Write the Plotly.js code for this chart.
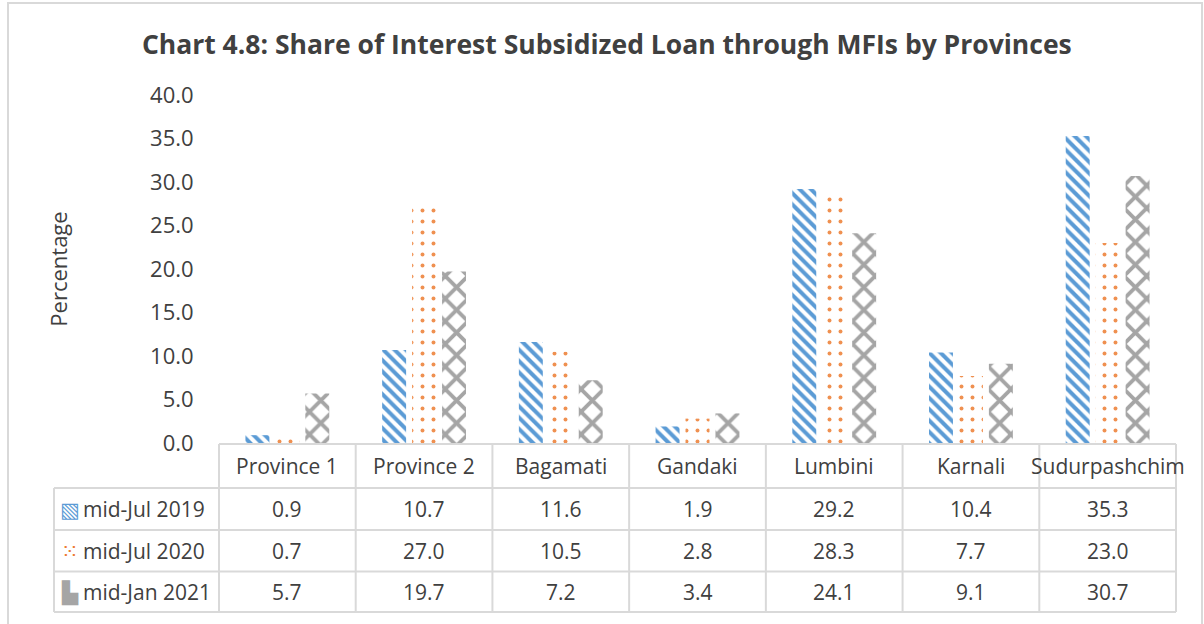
<!DOCTYPE html>
<html>
<head>
<meta charset="utf-8">
<script src="https://cdn.plot.ly/plotly-3.0.1.min.js"></script>
<style>html,body{margin:0;padding:0;background:#fff;}#chart{width:1204px;height:624px;}</style>
</head>
<body>
<div id="chart"></div>
<script>
const categories = ["Province 1", "Province 2", "Bagamati", "Gandaki", "Lumbini", "Karnali", "Sudurpashchim"];
const seriesNames = ["mid-Jul 2019", "mid-Jul 2020", "mid-Jan 2021"];
const julyNineteen = [0.9, 10.7, 11.6, 1.9, 29.2, 10.4, 35.3];
const julyTwenty = [0.7, 27.0, 10.5, 2.8, 28.3, 7.7, 23.0];
const janTwentyOne = [5.7, 19.7, 7.2, 3.4, 24.1, 9.1, 30.7];
const yTicks = [0, 5, 10, 15, 20, 25, 30, 35, 40];

const colors = ["#5B9BD5", "#ED7D31", "#A5A5A5"];
const patterns = [
  {shape: "\\", size: 8, solidity: 0.5},
  {shape: ".", size: 11, solidity: 0.1, fgopacity: 0.85},
  {shape: "x", size: 16, solidity: 0.42}
];
const seriesValues = [julyNineteen, julyTwenty, janTwentyOne];
const swatches = ["▧", "⁙", "▙"];

const FONT = "Open Sans, Lato, sans-serif";
const TXT = "#404040";
const GRID = "#D9D9D9";

// page geometry (pixels) -> paper coordinates
const W = 1204, H = 624;
const M = {l: 54, r: 28, t: 90, b: 12};
const PW = W - M.l - M.r, PH = H - M.t - M.b;
const px = x => (x - M.l) / PW;
const py = y => (H - M.b - y) / PH;

// table layout
const legendLeft = 54, dataLeft = 219, dataRight = 1176;
const colW = (dataRight - dataLeft) / categories.length;
const rowLines = [444, 488, 530, 571.5, 612];

const traces = seriesValues.map((vals, i) => ({
  type: "bar",
  name: seriesNames[i],
  x: categories,
  y: vals,
  marker: {
    color: "#ffffff",
    line: {width: 0},
    pattern: Object.assign({fgcolor: colors[i], bgcolor: "#ffffff", fillmode: "replace"}, patterns[i])
  },
  hoverinfo: "x+y+name"
}));

const shapes = [];
const lineShape = (x0, y0, x1, y1) => ({
  type: "line", xref: "paper", yref: "paper",
  x0: px(x0), x1: px(x1), y0: py(y0), y1: py(y1),
  line: {color: GRID, width: 2}
});
// horizontal rules
rowLines.forEach((y, i) => shapes.push(lineShape(i === 0 ? dataLeft : legendLeft, y, dataRight, y)));
// vertical rules
shapes.push(lineShape(legendLeft, rowLines[1], legendLeft, rowLines[4]));
for (let k = 0; k <= categories.length; k++) {
  const x = dataLeft + k * colW;
  shapes.push(lineShape(x, rowLines[0], x, rowLines[4]));
}
// outer chart frame
shapes.push({
  type: "rect", xref: "paper", yref: "paper",
  x0: px(8), x1: px(1202), y0: py(640), y1: py(3),
  line: {color: GRID, width: 2}, fillcolor: "rgba(0,0,0,0)", layer: "below"
});

const annotations = [];
const cellText = (x, y, text, anchor) => ({
  xref: "paper", yref: "paper", x: px(x), y: py(y),
  xanchor: anchor || "center", yanchor: "middle",
  text: text, showarrow: false,
  font: {family: FONT, size: 21, color: TXT}
});
categories.forEach((c, k) => {
  const cx = dataLeft + (k + 0.5) * colW;
  annotations.push(cellText(cx, (rowLines[0] + rowLines[1]) / 2, c));
  seriesValues.forEach((s, i) => {
    annotations.push(cellText(cx, (rowLines[i + 1] + rowLines[i + 2]) / 2, s[k].toFixed(1)));
  });
});
seriesNames.forEach((n, i) => {
  const cy = (rowLines[i + 1] + rowLines[i + 2]) / 2;
  annotations.push(cellText(81, cy, n, "left"));
  annotations.push({
    xref: "paper", yref: "paper", x: px(70), y: py(cy + 1),
    xanchor: "center", yanchor: "middle",
    text: swatches[i], showarrow: false,
    font: {family: "DejaVu Sans", size: 21, color: colors[i]}
  });
});

const layout = {
  width: W,
  height: H,
  margin: M,
  paper_bgcolor: "#ffffff",
  plot_bgcolor: "#ffffff",
  showlegend: false,
  barmode: "group",
  bargap: 0.343,
  bargroupgap: 0.2,
  title: {
    text: "<b>Chart 4.8: Share of Interest Subsidized Loan through MFIs by Provinces</b>",
    font: {family: FONT, size: 26.5, color: TXT},
    x: 0.504, xref: "container", xanchor: "center",
    y: 0.928, yref: "container", yanchor: "middle"
  },
  xaxis: {
    domain: [px(dataLeft), 1],
    showticklabels: false,
    showline: false,
    showgrid: false,
    zeroline: false,
    ticks: ""
  },
  yaxis: {
    domain: [py(443), py(95)],
    range: [0, 40],
    tickvals: yTicks,
    ticktext: yTicks.map(v => v.toFixed(1)),
    showgrid: false,
    zeroline: false,
    showline: false,
    ticks: "outside",
    ticklen: 20,
    tickcolor: "rgba(0,0,0,0)",
    tickfont: {family: FONT, size: 22, color: TXT},
    title: {text: "Percentage", font: {family: FONT, size: 22, color: TXT}, standoff: 76}
  },
  annotations: annotations,
  shapes: shapes
};

Plotly.newPlot("chart", traces, layout, {displayModeBar: false, staticPlot: true});
</script>
</body>
</html>
